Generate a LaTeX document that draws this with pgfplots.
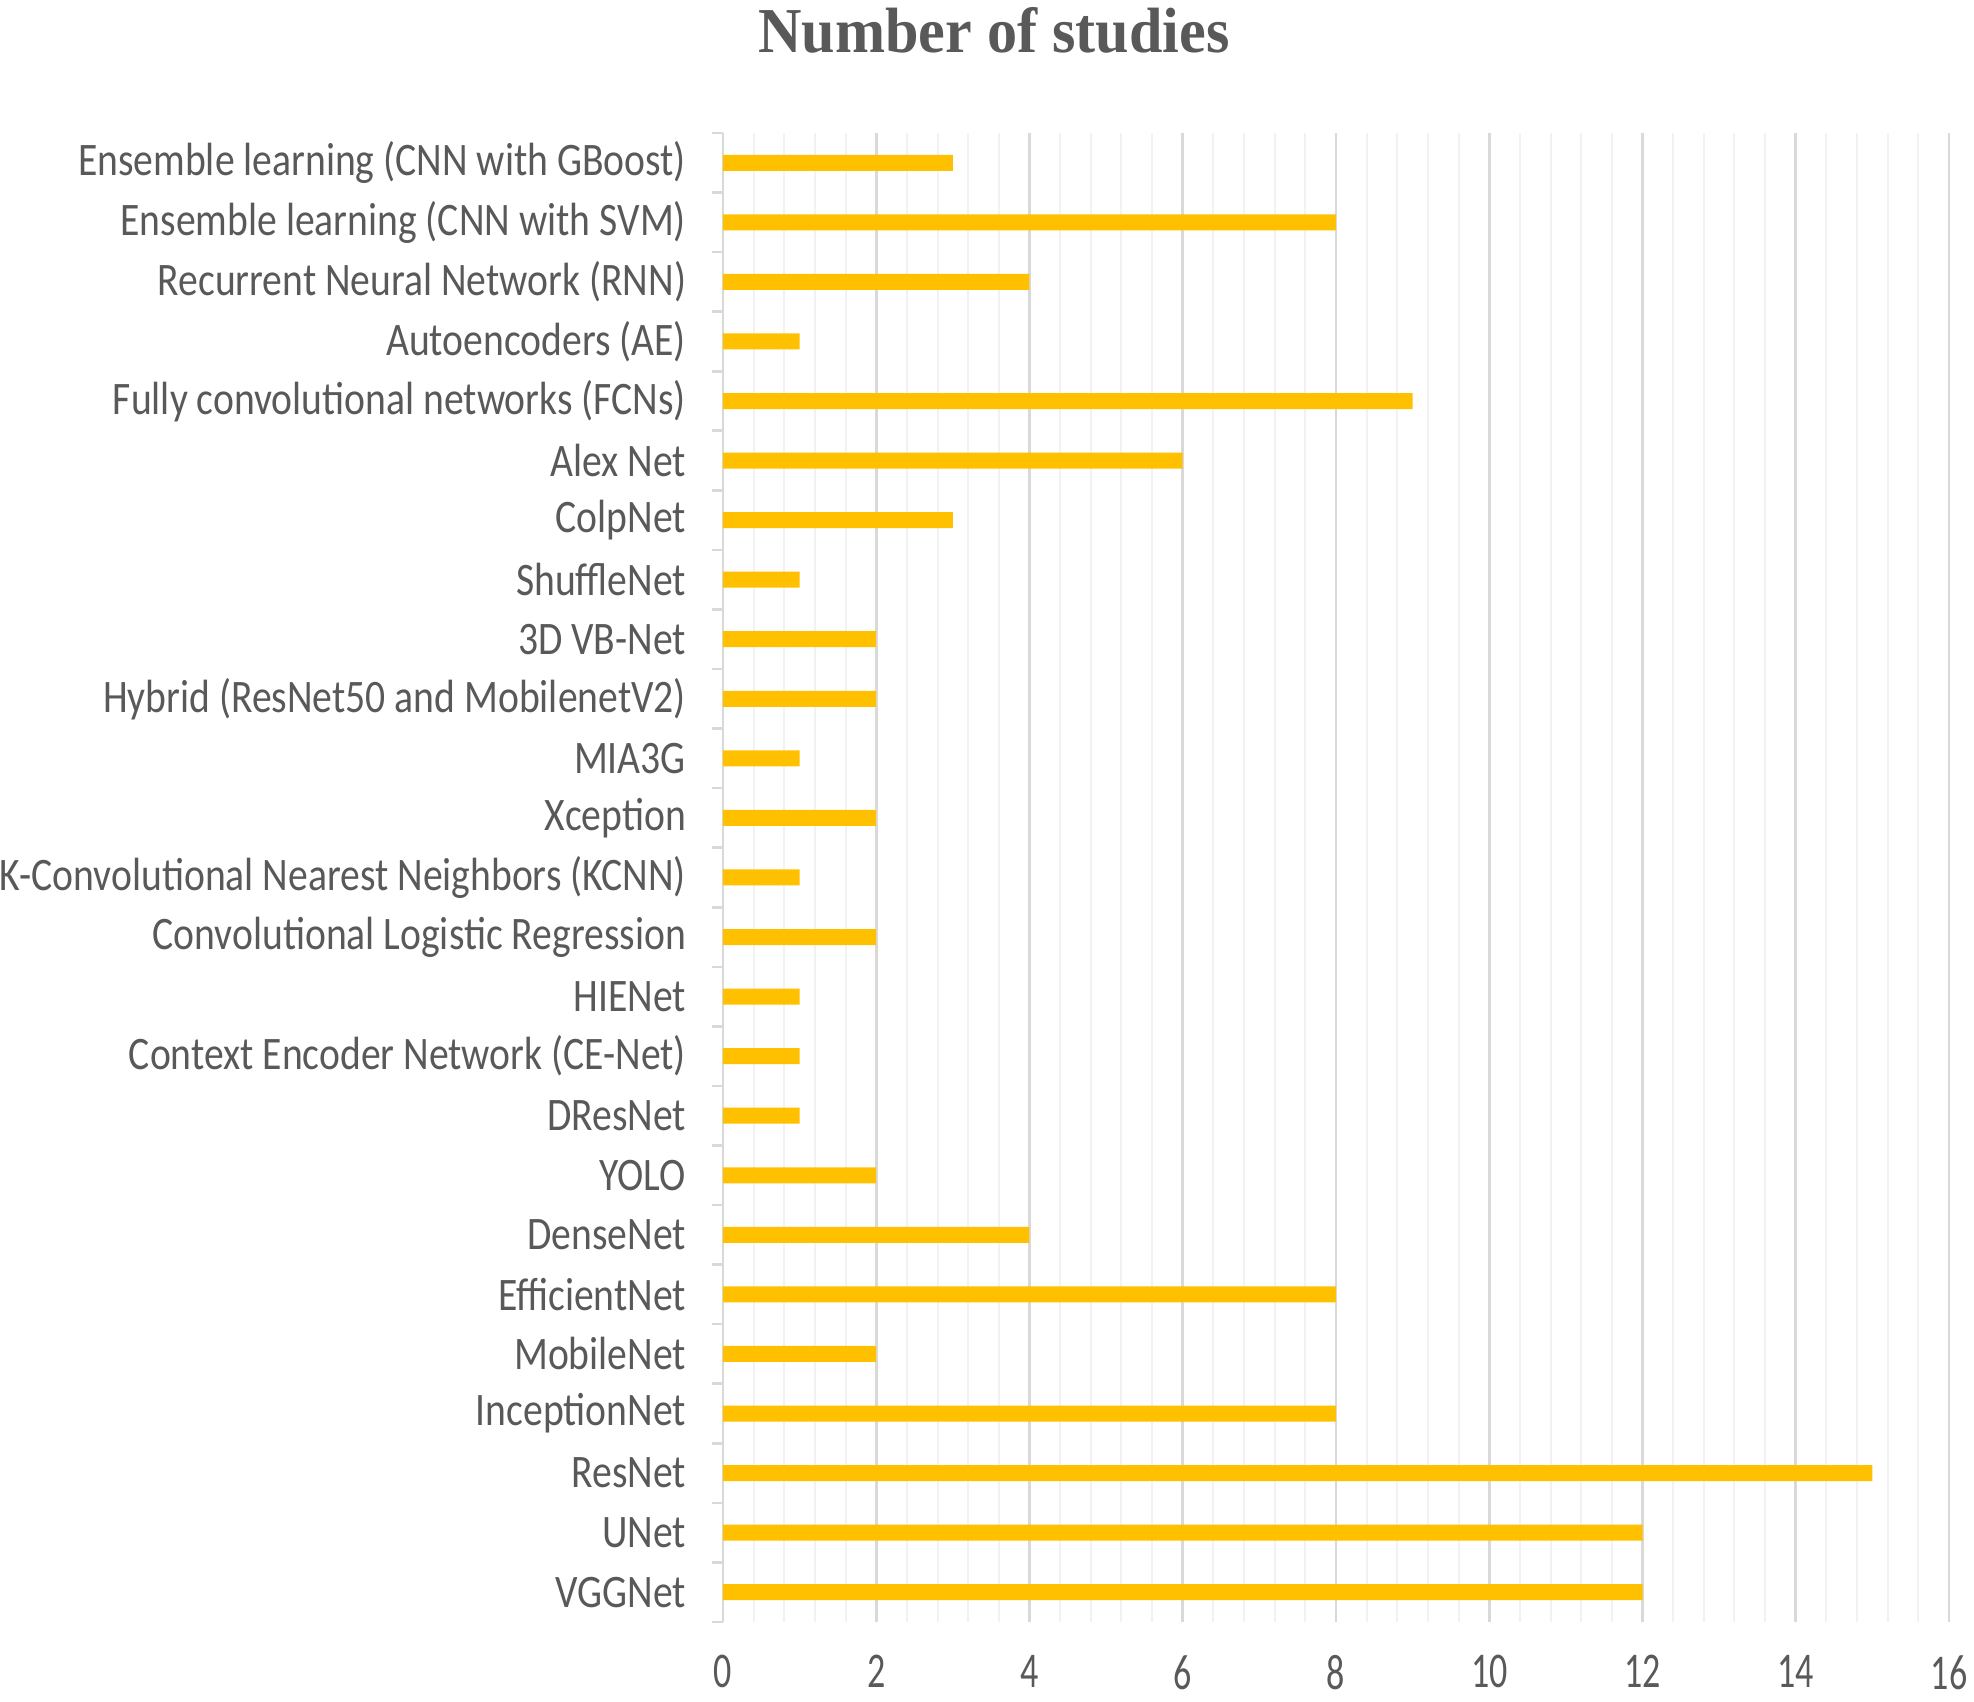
\documentclass[border=0pt]{standalone}
\usepackage{fontspec}
\usepackage{pgfplots}
\pgfplotsset{compat=1.18}
\usetikzlibrary{calc}
\newfontfamily\lab[FakeStretch=0.85]{Carlito}
\newfontfamily\tickf[FakeStretch=0.72]{Carlito}
\newfontfamily\ttl[FakeStretch=0.94]{Liberation Serif}
\definecolor{barc}{HTML}{FFC000}
\definecolor{txt}{HTML}{595959}
\definecolor{majgrid}{HTML}{D9D9D9}
\definecolor{mingrid}{HTML}{F2F2F2}
\begin{document}
\begin{tikzpicture}
\begin{axis}[
  scale only axis, width=613bp, height=744.5bp,
  xbar, bar width=8bp,
  xmin=0, xmax=16, ymin=-0.5, ymax=24.5,
  axis lines=left,
  x axis line style={draw=none},
  y axis line style={draw=majgrid, line width=1.3bp, -},
  xtick={0,2,...,16}, minor x tick num=4,
  xmajorgrids, xminorgrids,
  major x grid style={draw=majgrid, line width=1.3bp},
  minor x grid style={draw=mingrid, line width=1bp},
  ytick={0,...,24},
  minor ytick={-0.5,0.5,...,24.5},
  tick align=outside,
  major tick length=0pt,
  minor tick length=5.5bp,
  minor x tick style={draw=none},
  major tick style={draw=none},
  minor y tick style={draw=majgrid, line width=1.3bp},
  /pgf/number format/assume math mode=true,
  xticklabel style={font=\tickf\fontsize{25bp}{29bp}\selectfont, text=txt, anchor=north, inner sep=0pt, yshift=-16.5bp},
  yticklabel style={font=\lab\fontsize{23.3bp}{27bp}\selectfont, text=txt, anchor=east, xshift=-15bp},
  yticklabels={
    {VGGNet},
    {UNet},
    {ResNet},
    {InceptionNet},
    {MobileNet},
    {EfficientNet},
    {DenseNet},
    {YOLO},
    {DResNet},
    {Context Encoder Network (CE-Net)},
    {HIENet},
    {Convolutional Logistic Regression},
    {K-Convolutional Nearest Neighbors (KCNN)},
    {Xception},
    {MIA3G},
    {Hybrid (ResNet50 and MobilenetV2)},
    {3D VB-Net},
    {ShuffleNet},
    {ColpNet},
    {Alex Net},
    {Fully convolutional networks (FCNs)},
    {Autoencoders (AE)},
    {Recurrent Neural Network (RNN)},
    {Ensemble learning (CNN with SVM)},
    {Ensemble learning (CNN with GBoost)}
  },
]
\addplot[fill=barc, draw=none] coordinates {
  (12,0) (12,1) (15,2) (8,3) (2,4) (8,5) (4,6) (2,7) (1,8) (1,9)
  (1,10) (2,11) (1,12) (2,13) (1,14) (2,15) (2,16) (1,17) (3,18) (6,19)
  (9,20) (1,21) (4,22) (8,23) (3,24)
};
\end{axis}
\node[anchor=base, text=txt, font=\ttl\bfseries\fontsize{32bp}{36bp}\selectfont]
  at ($(current axis.north west)+(135.5bp,40bp)$) {Number of studies};
\pgfresetboundingbox
\path[use as bounding box] ($(current axis.south west)+(-361.5bp,-40bp)$) rectangle ($(current axis.north east)+(12.5bp,66.5bp)$);
\end{tikzpicture}
\end{document}
